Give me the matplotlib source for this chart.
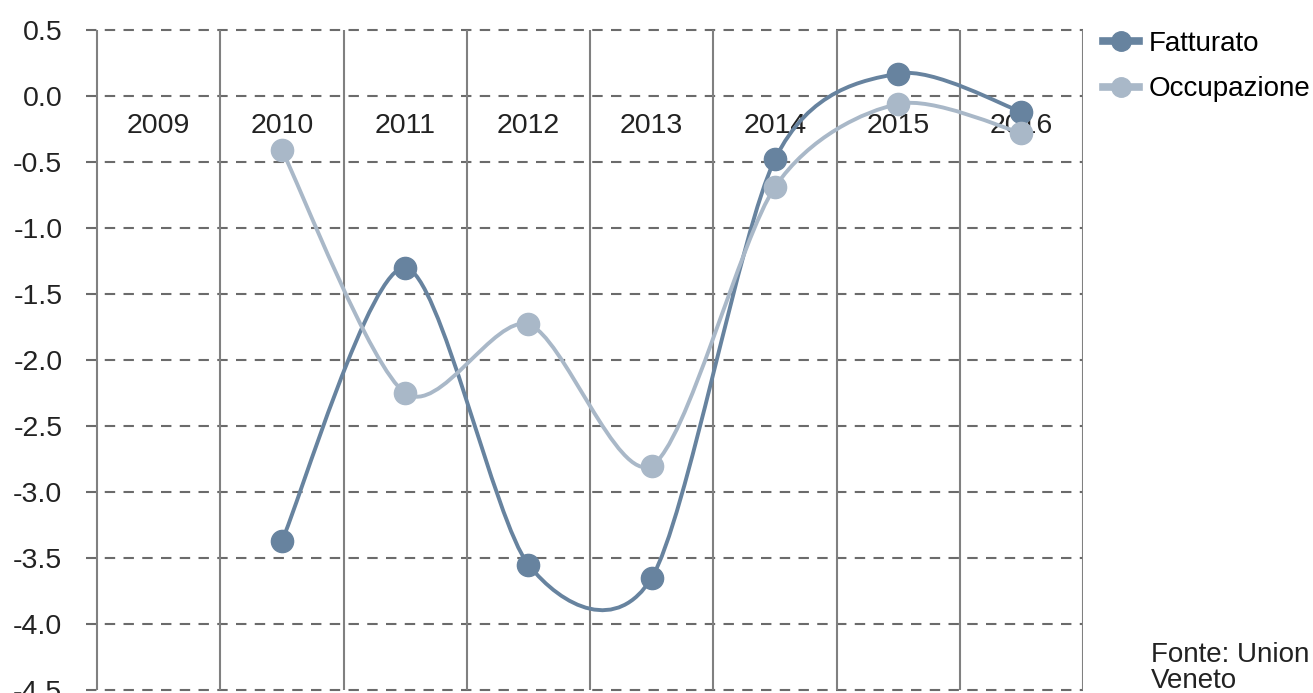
import matplotlib.pyplot as plt
from matplotlib.path import Path
from matplotlib.patches import PathPatch
from matplotlib.lines import Line2D

plt.rcParams['font.family'] = ['Liberation Sans', 'DejaVu Sans']

years = ['2009', '2010', '2011', '2012', '2013', '2014', '2015', '2016']
fatturato = [None, -3.37, -1.30, -3.55, -3.65, -0.48, 0.17, -0.12]
occupazione = [None, -0.41, -2.25, -1.73, -2.80, -0.69, -0.06, -0.28]

c_fatt = '#67839f'
c_occ = '#a9b8c8'


def smooth_path(xs, ys, f=0.14):
    # bezier segments like a smoothed office chart line
    pts = list(zip(xs, ys))
    verts = [pts[0]]
    codes = [Path.MOVETO]
    n = len(pts)
    for i in range(n - 1):
        p0 = pts[i - 1] if i > 0 else pts[i]
        p1 = pts[i]
        p2 = pts[i + 1]
        p3 = pts[i + 2] if i + 2 < n else pts[i + 1]
        c1 = (p1[0] + (p2[0] - p0[0]) * f, p1[1] + (p2[1] - p0[1]) * f)
        c2 = (p2[0] - (p3[0] - p1[0]) * f, p2[1] - (p3[1] - p1[1]) * f)
        verts += [c1, c2, p2]
        codes += [Path.CURVE4] * 3
    return Path(verts, codes)


fig = plt.figure(figsize=(13.13, 6.93), dpi=100)
ax = fig.add_axes([86 / 1313, 3 / 693, (1083 - 86) / 1313, 660 / 693])
ax.set_xlim(-0.59, 7.5)
ax.set_ylim(-4.5, 0.5)

for yv in [0.5, 0.0, -0.5, -1.0, -1.5, -2.0, -2.5, -3.0, -3.5, -4.0, -4.5]:
    ax.axhline(yv, color='#6b6b6b', lw=1.5, ls=(0, (5, 4)), zorder=1, clip_on=False)
for k in range(len(years) + 1):
    ax.axvline(k - 0.5, color='#808080', lw=1.5, zorder=1)

for i, yr in enumerate(years):
    ax.text(i, -0.225, yr, ha='center', va='center', fontsize=20.5, color='#222222', zorder=2)

for vals, col in [(fatturato, c_fatt), (occupazione, c_occ)]:
    xs = [i for i, v in enumerate(vals) if v is not None]
    ys = [v for v in vals if v is not None]
    ax.add_patch(PathPatch(smooth_path(xs, ys), facecolor='none', edgecolor=col, lw=2.8, zorder=3))
    ax.plot(xs, ys, ls='none', marker='o', ms=16, color=col, zorder=4)

ax.set_yticks([0.5, 0.0, -0.5, -1.0, -1.5, -2.0, -2.5, -3.0, -3.5, -4.0, -4.5])
ax.set_yticklabels(['0.5', '0.0', '-0.5', '-1.0', '-1.5', '-2.0', '-2.5', '-3.0', '-3.5', '-4.0', '-4.5'])
ax.tick_params(axis='y', length=0, pad=17, labelsize=20.5, labelcolor='#222222')
ax.set_xticks([])
for s in ax.spines.values():
    s.set_visible(False)

handles = [Line2D([], [], color=c_fatt, lw=5.5, marker='o', ms=14),
           Line2D([], [], color=c_occ, lw=5.5, marker='o', ms=14)]
fig.legend(handles, ['Fatturato', 'Occupazione'], loc='upper left',
           bbox_to_anchor=(1103 / 1313, 1 - 31 / 693), frameon=False, fontsize=20,
           handlelength=1.3, handletextpad=0.35, labelspacing=0.7, borderaxespad=0,
           borderpad=0)

fig.text(1151 / 1313, 1 - 668 / 693, 'Fonte: Union\nVeneto', fontsize=20, color='#222222',
         va='center', ha='left', linespacing=1.0)

fig.savefig('out.png', dpi=100)
